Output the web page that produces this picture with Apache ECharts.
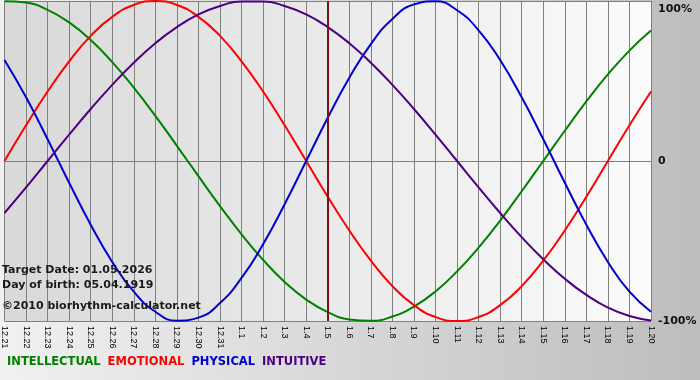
<!DOCTYPE html>
<html>
<head>
<meta charset="utf-8">
<script src="https://cdn.jsdelivr.net/npm/echarts@6/dist/echarts.min.js"></script>
<style>
html,body{margin:0;padding:0;}
#c{width:700px;height:380px;background:linear-gradient(to right,#f1f1f1,#bdbdbd);}
</style>
</head>
<body>
<div id="c"></div>
<script>
const days = ['12.21','12.22','12.23','12.24','12.25','12.26','12.27','12.28','12.29','12.30','12.31',
  '1.1','1.2','1.3','1.4','1.5','1.6','1.7','1.8','1.9','1.10','1.11','1.12','1.13','1.14','1.15','1.16','1.17','1.18','1.19','1.20'];
const intellectual = [99.9,99.0,94.5,86.6,75.6,61.8,45.8,28.2,9.5,-9.5,-28.2,-45.8,-61.8,-75.6,-86.6,-94.5,-99.0,-99.9,-97.2,-91.0,-81.5,-69.0,-54.1,-37.2,-18.9,0,18.9,37.2,54.1,69.0,81.5];
const emotional = [0,22.3,43.4,62.3,78.2,90.1,97.5,100,97.5,90.1,78.2,62.3,43.4,22.3,0,-22.3,-43.4,-62.3,-78.2,-90.1,-97.5,-100,-97.5,-90.1,-78.2,-62.3,-43.4,-22.3,0,22.3,43.4];
const physical = [63.1,39.8,13.6,-13.6,-39.8,-63.1,-81.7,-94.2,-99.8,-97.9,-88.8,-73.1,-52.0,-27.0,0,27.0,52.0,73.1,88.8,97.9,99.8,94.2,81.7,63.1,39.8,13.6,-13.6,-39.8,-63.1,-81.7,-94.2];
const intuitive = [-32.5,-16.5,0,16.5,32.5,47.6,61.4,73.6,83.7,91.6,96.9,99.7,99.7,96.9,91.6,83.7,73.6,61.4,47.6,32.5,16.5,0,-16.5,-32.5,-47.6,-61.4,-73.6,-83.7,-91.6,-96.9,-99.7];
const seriesNames = ['INTELLECTUAL','EMOTIONAL','PHYSICAL','INTUITIVE'];
const seriesColors = ['#008000','#ff0000','#0000cc','#4b0082'];
const targetDay = '1.5';
const infoLines = ['Target Date: 01.05.2026','Day of birth: 05.04.1919','\u00a92010 biorhythm-calculator.net'];

const chart = echarts.init(document.getElementById('c'), null, {renderer:'canvas'});
const values = [intellectual, emotional, physical, intuitive];
const boldFont = 'Tahoma, "DejaVu Sans", Verdana, sans-serif';

const series = seriesNames.map((n,i)=>({
  name:n, type:'line', data:values[i], smooth:true, symbol:'none',
  lineStyle:{color:seriesColors[i], width:2}, itemStyle:{color:seriesColors[i]},
  z: 3
}));
series.push({
  name:'target', type:'line', data:[], symbol:'none',
  markLine:{silent:true, symbol:'none', label:{show:false},
    lineStyle:{color:'#7a1414', width:2, type:'solid'},
    data:[{xAxis:targetDay}]},
  z:2
});

chart.setOption({
  animation:false,
  backgroundColor:'transparent',
  grid:{left:0, right:49, top:1, bottom:59, show:true, borderWidth:0,
    backgroundColor:new echarts.graphic.LinearGradient(0,0,1,0,[{offset:0,color:'#d9d9d9'},{offset:1,color:'#fbfbfb'}])},
  legend:{left:-3, top:351, itemWidth:0, itemHeight:0, itemGap:2,
    selectedMode:false,
    textStyle:{fontFamily:'"DejaVu Sans", sans-serif', fontWeight:'bold', fontSize:11.5, padding:0},
    data:seriesNames.map((n,i)=>({name:n, icon:'none', textStyle:{color:seriesColors[i]}}))},
  xAxis:{type:'category', data:days, boundaryGap:false,
    axisLine:{lineStyle:{color:'#808080'}},
    axisTick:{show:true, length:5, interval:0, lineStyle:{color:'#808080'}},
    splitLine:{show:true, interval:0, lineStyle:{color:'#808080', width:1}},
    axisLabel:{interval:0, rotate:-90, margin:5, color:'#000', fontSize:9, fontFamily:'Tahoma, "Liberation Sans", Arial, sans-serif'}},
  yAxis:{type:'value', position:'right', min:-100, max:100, interval:100,
    axisLine:{show:false}, axisTick:{show:false},
    splitLine:{show:true, lineStyle:{color:'#808080', width:1}},
    axisLabel:{margin:7, color:'#111', fontWeight:'bold', fontSize:11, fontFamily:boldFont,
      formatter:v=> v===100 ? '{t|100%}' : (v===0 ? '0' : v+'%'),
      rich:{t:{padding:[16,0,0,0], fontWeight:'bold', fontSize:11, color:'#111', fontFamily:boldFont}}}},
  graphic: infoLines.map((t,i)=>({type:'text', left:2, top:[265,280,301][i], z:10,
    style:{text:t, fill:'#1a1a1a', font:'bold 11px ' + boldFont}})),
  series: series
});
</script>
</body>
</html>
